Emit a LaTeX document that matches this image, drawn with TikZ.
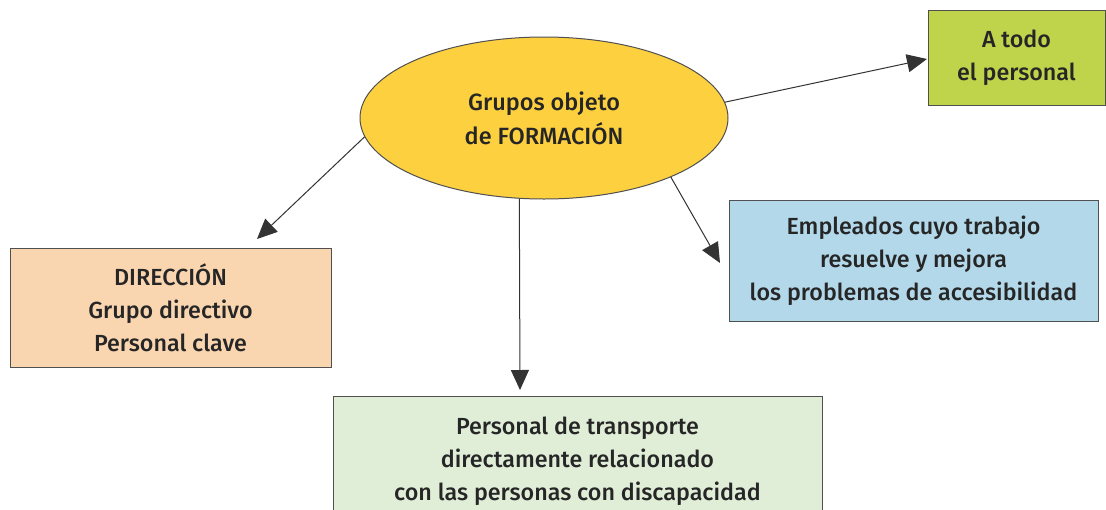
\documentclass[tikz,border=0pt]{standalone}
\usepackage{fontspec}
\setmainfont{Fira Sans Medium}
\usetikzlibrary{shapes.geometric,arrows.meta}
\definecolor{ellfill}{HTML}{FDD03F}
\definecolor{topgreen}{HTML}{BFD34B}
\definecolor{orangebox}{HTML}{FAD6B0}
\definecolor{bluebox}{HTML}{B2D8EA}
\definecolor{lightgreen}{HTML}{E0EED8}
\definecolor{edge}{HTML}{505050}
\tikzset{
  box/.style={draw=edge, line width=1pt, rectangle, align=center, inner sep=0pt,
    font=\fontsize{23.3}{33}\selectfont, text=black!85},
  conn/.style={draw=black!80, line width=1pt, -{Triangle[length=20pt,width=18pt]}},
}
\begin{document}
\begin{tikzpicture}[x=1pt,y=-1pt]
\clip (0,0) rectangle (1106,509);
\fill[white] (0,0) rectangle (1106,509);
\node[ellipse, draw=edge, line width=1pt, fill=ellfill, minimum width=368pt, minimum height=162pt,
  align=center, inner sep=0pt, font=\fontsize{23.5}{34}\selectfont, text=black!85] (e) at (544,118)
  {Grupos objeto\\de FORMACIÓN};
\node[box, fill=topgreen, minimum width=177pt, minimum height=95pt] (a) at (1016.5,57.5)
  {A todo\\el personal};
\node[box, fill=orangebox, minimum width=321pt, minimum height=119pt] (d) at (170.5,307.5)
  {DIRECCIÓN\\Grupo directivo\\Personal clave};
\node[box, fill=bluebox, minimum width=369pt, minimum height=121pt] (b) at (913.5,261)
  {Empleados cuyo trabajo\\resuelve y mejora\\los problemas de accesibilidad};
\node[box, fill=lightgreen, minimum width=489pt, minimum height=130pt, anchor=north] (g) at (577.5,396)
  {Personal de transporte\\directamente relacionado\\con las personas con discapacidad};
\coordinate (tA) at (927,59);
\coordinate (tD) at (257,239);
\coordinate (tG) at (520,390);
\coordinate (tB) at (720,263);
\draw[conn] (e.5) -- (tA);
\draw[conn] (e.186) -- (tD);
\draw[conn] (e.253.5) -- (tG);
\draw[conn] (e.335) -- (tB);
\end{tikzpicture}
\end{document}
